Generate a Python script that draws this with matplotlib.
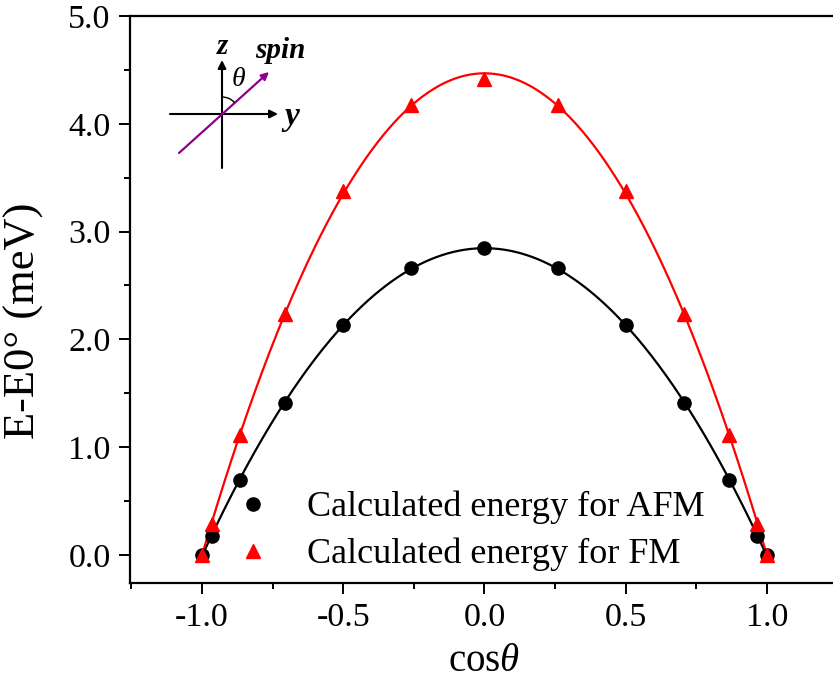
import numpy as np
import matplotlib
matplotlib.use("Agg")
import matplotlib.pyplot as plt
from matplotlib.patches import Arc

plt.rcParams["font.family"] = ["Liberation Serif", "DejaVu Serif"]
plt.rcParams["mathtext.fontset"] = "custom"
plt.rcParams["mathtext.rm"] = "Liberation Serif"
plt.rcParams["mathtext.it"] = "Liberation Serif:italic"
plt.rcParams["mathtext.bf"] = "Liberation Serif:bold:italic"

# spin direction, theta = 0..180 deg in 15 deg steps
cos_theta = [-1.0, -0.966, -0.866, -0.707, -0.5, -0.259, 0.0,
             0.259, 0.5, 0.707, 0.866, 0.966, 1.0]
e_afm = [0.0, 0.18, 0.70, 1.41, 2.13, 2.66, 2.85,
         2.66, 2.13, 1.41, 0.70, 0.18, 0.0]
e_fm = [0.0, 0.29, 1.11, 2.24, 3.38, 4.17, 4.42,
        4.17, 3.38, 2.24, 1.11, 0.29, 0.0]

x_ticks = [-1.0, -0.5, 0.0, 0.5, 1.0]
y_ticks = [0.0, 1.0, 2.0, 3.0, 4.0, 5.0]

W, H = 833, 684
fig = plt.figure(figsize=(W / 100, H / 100), dpi=100)
ax = fig.add_axes([130 / W, 1 - 583 / H, 707.5 / W, 567 / H])

# quadratic fits in cos(theta)
xf = np.linspace(-1, 1, 300)
p_afm = np.polyfit(cos_theta, e_afm, 2)
p_fm = np.polyfit(cos_theta, e_fm, 2)
ax.plot(xf, np.polyval(p_afm, xf), color="black", lw=1.6, zorder=2)
ax.plot(xf, np.polyval(p_fm, xf), color="red", lw=1.6, zorder=2)

ax.plot(cos_theta, e_afm, "o", color="black", ms=9.5, ls="none",
        label="Calculated energy for AFM", zorder=3)
ax.plot(cos_theta, e_fm, "^", color="red", ms=10, ls="none",
        label="Calculated energy for FM", zorder=3)

ax.set_xlim(-1.255, 1.25)
ax.set_ylim(-0.26, 5.0)
ax.set_xticks(x_ticks)
ax.set_xticklabels(["-1.0", "-0.5", "0.0", "0.5", "1.0"])
ax.set_yticks(y_ticks)
ax.set_yticklabels([f"{v:.1f}" for v in y_ticks])
ax.set_xticks(np.arange(-1.25, 1.26, 0.25), minor=True)
ax.set_yticks(np.arange(0.5, 5.0, 1.0), minor=True)
ax.tick_params(which="major", direction="out", length=8, width=1.4, labelsize=24.5, pad=6)
ax.tick_params(which="minor", direction="out", length=4.5, width=1.4)
for s in ax.spines.values():
    s.set_linewidth(1.6)

ax.set_xlabel(r"cos$\theta$", fontsize=28, labelpad=7)
ax.set_ylabel("E-E0° (meV)", fontsize=32)
ax.yaxis.set_label_coords(-0.122, 0.462)

leg = ax.legend(loc="center left", bbox_to_anchor=(235 / W, 1 - 531 / H),
                bbox_transform=fig.transFigure, frameon=False, fontsize=26,
                handletextpad=1.0, labelspacing=0.37, handlelength=1.0,
                borderpad=0, borderaxespad=0)

# coordinate sketch in the upper-left corner (figure pixels)
def px(x, y):
    return (x, H - y)

arrow = dict(arrowstyle="-|>", color="black", lw=1.5, mutation_scale=12,
             shrinkA=0, shrinkB=0)
ax.annotate("", xy=px(222, 60), xytext=px(222, 168), xycoords="figure pixels",
            textcoords="figure pixels", arrowprops=arrow)
ax.annotate("", xy=px(278, 114), xytext=px(170, 114), xycoords="figure pixels",
            textcoords="figure pixels", arrowprops=arrow)
ax.annotate("", xy=px(269, 72), xytext=px(179, 153), xycoords="figure pixels",
            textcoords="figure pixels",
            arrowprops=dict(arrowstyle="-|>", color="#8B008B", lw=1.6,
                            mutation_scale=11, shrinkA=0, shrinkB=0))
fig.add_artist(Arc((2.22, (H - 114) / 100), 0.34, 0.34, theta1=42, theta2=90,
                   transform=fig.dpi_scale_trans, color="black", lw=1.0))
fig.text(223 / W, 1 - 46 / H, "z", fontsize=21, fontweight="bold", style="italic",
         ha="center", va="center")
fig.text(280 / W, 1 - 50 / H, "spin", fontsize=21, fontweight="bold", style="italic",
         ha="center", va="center")
fig.text(238 / W, 1 - 79 / H, r"$\theta$", fontsize=20, ha="center", va="center")
fig.text(292 / W, 1 - 116 / H, "y", fontsize=24, fontweight="bold", style="italic",
         ha="center", va="center")

fig.savefig("out.png", dpi=100)
